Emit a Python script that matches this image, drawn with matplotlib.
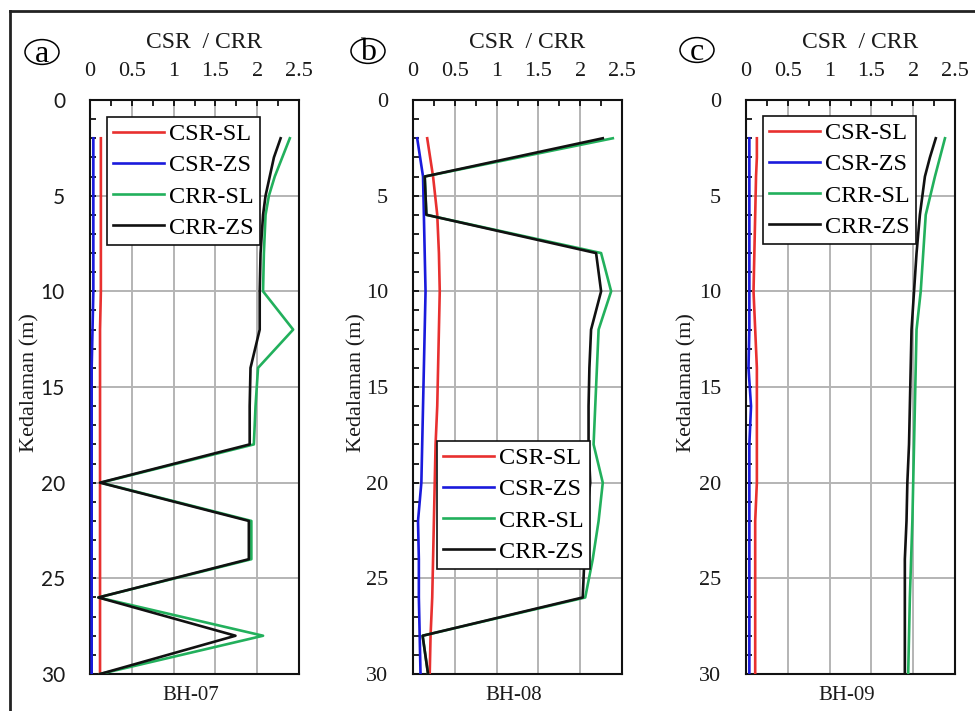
import matplotlib
matplotlib.use('Agg')
import matplotlib.pyplot as plt
from matplotlib.lines import Line2D
from matplotlib.patches import Circle
from matplotlib.ticker import MultipleLocator

plt.rcParams['font.family'] = ['Liberation Serif', 'DejaVu Serif']

# data: depth (m) and CSR / CRR values
depths_a = [2, 3, 4, 5, 6, 8, 10, 12, 14, 16, 18, 20, 22, 24, 26, 28, 30]
csr_sl_a = [0.13, 0.13, 0.13, 0.13, 0.13, 0.13, 0.13, 0.12, 0.12, 0.12, 0.12, 0.12, 0.12, 0.12, 0.12, 0.12, 0.12]
csr_zs_a = [0.04, 0.04, 0.04, 0.04, 0.04, 0.04, 0.04, 0.03, 0.02, 0.02, 0.02, 0.02, 0.02, 0.02, 0.02, 0.02, 0.02]
crr_sl_a = [2.39, 2.30, 2.21, 2.14, 2.10, 2.08, 2.07, 2.43, 2.01, 1.98, 1.96, 0.13, 1.93, 1.93, 0.10, 2.07, 0.12]
crr_zs_a = [2.28, 2.20, 2.15, 2.10, 2.07, 2.04, 2.03, 2.03, 1.92, 1.91, 1.91, 0.12, 1.90, 1.90, 0.10, 1.74, 0.12]

depths_b = [2, 4, 6, 8, 10, 12, 14, 16, 18, 20, 22, 24, 26, 28, 30]
csr_sl_b = [0.17, 0.24, 0.29, 0.31, 0.32, 0.31, 0.30, 0.29, 0.27, 0.26, 0.25, 0.24, 0.23, 0.21, 0.20]
csr_zs_b = [0.05, 0.12, 0.13, 0.14, 0.15, 0.14, 0.13, 0.12, 0.11, 0.10, 0.06, 0.07, 0.07, 0.08, 0.09]
crr_sl_b = [2.39, 0.14, 0.16, 2.25, 2.37, 2.22, 2.20, 2.18, 2.16, 2.27, 2.22, 2.15, 2.06, 0.115, 0.18]
crr_zs_b = [2.27, 0.14, 0.16, 2.19, 2.25, 2.13, 2.11, 2.10, 2.10, 2.12, 2.07, 2.05, 2.03, 0.115, 0.18]

depths_c = [2, 3, 4, 6, 8, 10, 12, 14, 16, 18, 20, 22, 24, 26, 28, 30]
csr_sl_c = [0.13, 0.13, 0.12, 0.11, 0.10, 0.09, 0.11, 0.13, 0.13, 0.13, 0.13, 0.11, 0.11, 0.11, 0.11, 0.11]
csr_zs_c = [0.04, 0.04, 0.04, 0.04, 0.04, 0.04, 0.04, 0.03, 0.06, 0.04, 0.04, 0.04, 0.04, 0.04, 0.04, 0.04]
crr_sl_c = [2.38, 2.32, 2.26, 2.15, 2.12, 2.09, 2.04, 2.03, 2.02, 2.01, 2.00, 1.99, 1.975, 1.96, 1.95, 1.94]
crr_zs_c = [2.27, 2.20, 2.14, 2.08, 2.04, 2.01, 1.98, 1.97, 1.96, 1.95, 1.93, 1.92, 1.90, 1.90, 1.90, 1.90]

series_names = ['CSR-SL', 'CSR-ZS', 'CRR-SL', 'CRR-ZS']
series_colors = ['#e8302f', '#1a1adc', '#22b05c', '#111111']
panel_letters = ['a', 'b', 'c']
borehole_names = ['BH-07', 'BH-08', 'BH-09']

panels = [
    (depths_a, [csr_sl_a, csr_zs_a, crr_sl_a, crr_zs_a]),
    (depths_b, [csr_sl_b, csr_zs_b, crr_sl_b, crr_zs_b]),
    (depths_c, [csr_sl_c, csr_zs_c, crr_sl_c, crr_zs_c]),
]

W, H = 975, 711
fig = plt.figure(figsize=(W / 100, H / 100), dpi=100)

# pixel layout of each panel
ax_left = [90, 413, 746]
ax_width = 209
ax_top, ax_bottom = 100, 674
leg_pos = [(107, 117), (437, 441), (763, 116)]
circle_pos = [(42, 52), (368, 51), (697, 50)]
ylab_x = [30, 357, 687]

txt_col = '#1a1a1a'

for i, (depths, vals) in enumerate(panels):
    ax = fig.add_axes([ax_left[i] / W, 1 - ax_bottom / H, ax_width / W, (ax_bottom - ax_top) / H])
    for v, name, col in zip(vals, series_names, series_colors):
        ax.plot(v, depths, color=col, lw=1.9, label=name, zorder=3)
    ax.set_xlim(0, 2.5)
    ax.set_ylim(30, 0)
    ax.xaxis.tick_top()
    ax.set_xticks([0, 0.5, 1, 1.5, 2, 2.5])
    ax.set_xticklabels(['0', '0.5', '1', '1.5', '2', '2.5'])
    ax.xaxis.set_minor_locator(MultipleLocator(0.25))
    ax.yaxis.set_major_locator(MultipleLocator(5))
    ax.yaxis.set_minor_locator(MultipleLocator(1))
    ax.tick_params(axis='both', which='both', direction='in', length=4, width=1.2, colors='black',
                   labelcolor=txt_col, labelsize=16)
    ax.tick_params(axis='x', which='major', pad=14)
    ax.tick_params(axis='y', which='major', pad=18)
    if i == 0:
        for t in ax.get_yticklabels():
            t.set_family(['Lato', 'DejaVu Sans'])
            t.set_fontsize(15)
    ax.grid(True, which='major', color='#b4b4b4', lw=1.4, zorder=0)
    for s in ax.spines.values():
        s.set_linewidth(1.5)
        s.set_color('#111111')

    lx, ly = leg_pos[i]
    leg = ax.legend(loc='upper left', bbox_to_anchor=(lx / W, 1 - ly / H), bbox_transform=fig.transFigure,
                    fontsize=17.5, frameon=True, fancybox=False, framealpha=1, edgecolor='#111111',
                    handlelength=2.1, handletextpad=0.2, labelspacing=0.38, borderpad=0.25,
                    borderaxespad=0)
    leg.get_frame().set_linewidth(1.2)
    leg.set_zorder(5)

    cx = ax_left[i] + ax_width / 2
    fig.text((cx + 10) / W, 1 - 42 / H, 'CSR  / CRR', ha='center', va='center', fontsize=17, color=txt_col)
    fig.text((cx - 4) / W, 1 - 696 / H, borehole_names[i], ha='center', va='center', fontsize=15, color=txt_col)
    fig.text(ylab_x[i] / W, 1 - 383 / H, 'Kedalaman (m)', ha='center', va='center', rotation=90,
             fontsize=16, color=txt_col)

    px, py = circle_pos[i]
    fig.patches.append(Circle((px / W, 1 - py / H), 17 / W, transform=fig.transFigure,
                              fill=False, ec='black', lw=1.1))
    fig.text(px / W, 1 - (py + 2) / H, panel_letters[i], ha='center', va='center', fontsize=23)

# outer frame (left and top edges only visible)
fig.add_artist(Line2D([10 / W, 10 / W], [0, 1 - 11 / H], color='#222222', lw=2))
fig.add_artist(Line2D([10 / W, 1], [1 - 11 / H, 1 - 11 / H], color='#222222', lw=2))

fig.savefig('out.png', dpi=100)
